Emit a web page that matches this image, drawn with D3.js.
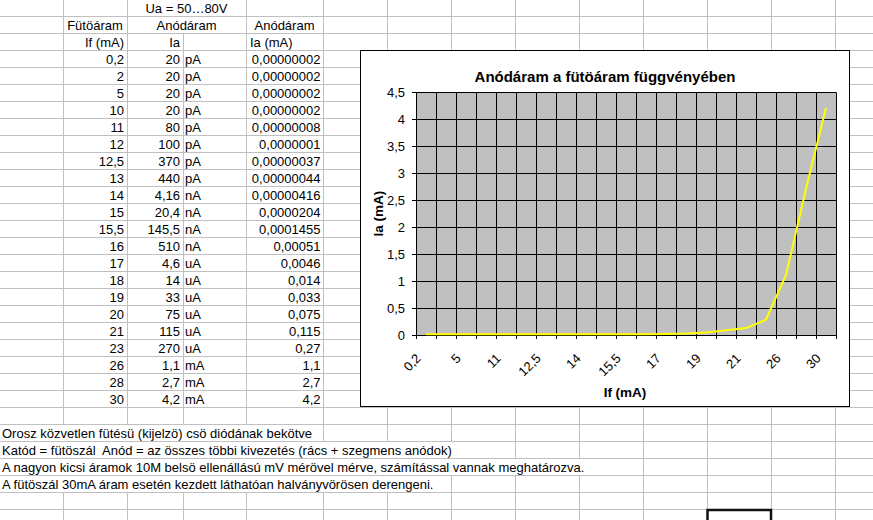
<!DOCTYPE html>
<html>
<head>
<meta charset="utf-8">
<script src="https://cdn.jsdelivr.net/npm/d3@7"></script>
<style>
  body { margin: 0; background: #fff; }
  svg { display: block; font-family: Arial, "Liberation Sans", sans-serif; }
  text { white-space: pre; }
</style>
</head>
<body>
<svg id="sheet" width="873" height="520"></svg>
<script>
// sheet data
const IF_LABELS = ["0,2", "2", "5", "10", "11", "12", "12,5", "13", "14", "15", "15,5",
                   "16", "17", "18", "19", "20", "21", "23", "26", "28", "30"];
const IA_VALUES = ["20", "20", "20", "20", "80", "100", "370", "440", "4,16", "20,4", "145,5",
                   "510", "4,6", "14", "33", "75", "115", "270", "1,1", "2,7", "4,2"];
const IA_UNITS = ["pA", "pA", "pA", "pA", "pA", "pA", "pA", "pA", "nA", "nA", "nA",
                  "nA", "uA", "uA", "uA", "uA", "uA", "uA", "mA", "mA", "mA"];
const IA_MA = ["0,00000002", "0,00000002", "0,00000002", "0,00000002", "0,00000008", "0,0000001",
               "0,00000037", "0,00000044", "0,00000416", "0,0000204", "0,0001455", "0,00051",
               "0,0046", "0,014", "0,033", "0,075", "0,115", "0,27", "1,1", "2,7", "4,2"];
const Y_TICKS = [0, 0.5, 1, 1.5, 2, 2.5, 3, 3.5, 4, 4.5];
const X_LABELS = ["0,2", "5", "11", "12,5", "14", "15,5", "17", "19", "21", "26", "30"];
const NOTES = [
  "Orosz közvetlen fütésü (kijelzö) csö diódának bekötve",
  "Katód = fütöszál  Anód = az összes többi kivezetés (rács + szegmens anódok)",
  "A nagyon kicsi áramok 10M belsö ellenállású mV mérövel mérve, számítással vannak meghatározva.",
  "A fütöszál 30mA áram esetén kezdett láthatóan halványvörösen derengeni."
];

const W = 873, H = 520;
const ROW_H = 17;
const COLS = [0, 63, 127, 183, 246, 323, 387, 451, 515, 579, 643, 707, 771, 835, 899];
const rowTop = r => 16 + (r - 1) * ROW_H;
const base = r => rowTop(r) + 13.5;
const NOTE_ROW = 25;

const svg = d3.select("#sheet");
const grid = svg.append("g");
const cells = svg.append("g").attr("font-size", "13px").attr("fill", "#000");

function cell(r, txt, x, anchor, weight) {
  return cells.append("text")
    .attr("x", x).attr("y", base(r))
    .attr("text-anchor", anchor || "start")
    .attr("font-weight", weight || "normal")
    .text(txt);
}

// header
cell(0, "Ua = 50…80V", (COLS[2] + COLS[4]) / 2, "middle");
cell(1, "Fütöáram", (COLS[1] + COLS[2]) / 2, "middle");
cell(1, "Anódáram", (COLS[2] + COLS[4]) / 2, "middle");
cell(1, "Anódáram", (COLS[4] + COLS[5]) / 2, "middle");
cell(2, "If (mA)", COLS[2] - 3, "end");
cell(2, "Ia", COLS[3] - 3, "end");
cell(2, "Ia (mA)", COLS[4] + 4);

IF_LABELS.forEach((lab, i) => {
  let r = 3 + i;
  cell(r, lab, COLS[2] - 3, "end");
  cell(r, IA_VALUES[i], COLS[3] - 3, "end");
  cell(r, IA_UNITS[i], COLS[3] + 2);
  cell(r, IA_MA[i], COLS[5] - 2.5, "end");
});

// notes overflow across cells -> remember where each one ends
let noteEnds = {};
NOTES.forEach((t, i) => {
  let node = cell(NOTE_ROW + i, t, 2).node();
  noteEnds[NOTE_ROW + i] = 2 + node.getComputedTextLength();
});

// spreadsheet gridlines
for (let r = 0; rowTop(r) < H; r++) {
  grid.append("line")
    .attr("x1", 0).attr("x2", W)
    .attr("y1", rowTop(r + 1) + 0.5).attr("y2", rowTop(r + 1) + 0.5)
    .attr("stroke", "#c0c0c0");
  COLS.slice(1).forEach(cx => {
    if ((r === 0 || r === 1) && cx === COLS[3]) return; // merged C:D
    if (noteEnds[r] && cx < noteEnds[r]) return;
    grid.append("line")
      .attr("x1", cx + 0.5).attr("x2", cx + 0.5)
      .attr("y1", rowTop(r)).attr("y2", rowTop(r + 1))
      .attr("stroke", "#c0c0c0");
  });
}

// selected cell
svg.append("rect")
  .attr("x", 707.5).attr("y", 510).attr("width", 63.5).attr("height", 20)
  .attr("fill", "none").attr("stroke", "#111").attr("stroke-width", 2.5);

// ---- embedded chart ----
const chart = svg.append("g");
chart.append("rect")
  .attr("x", 360.5).attr("y", 50.5).attr("width", 489).attr("height", 356)
  .attr("fill", "#fff").attr("stroke", "#000");

const PL = 416, PR = 836, PT = 92.3, PB = 335;
let x = d3.scaleBand().domain(IF_LABELS).range([PL, PR]).padding(0);
let y = d3.scaleLinear().domain([0, 4.5]).range([PB, PT]);
let points = IF_LABELS.map((lab, i) => ({ label: lab, v: +IA_MA[i].replace(",", ".") }));

chart.append("rect")
  .attr("x", PL).attr("y", PT).attr("width", PR - PL).attr("height", PB - PT)
  .attr("fill", "#c0c0c0");

let bounds = IF_LABELS.map(d => x(d)).concat([PR]);
chart.selectAll(".vgrid")
  .data(bounds)
  .enter()
  .append("line")
  .attr("x1", d => Math.round(d) + 0.5).attr("x2", d => Math.round(d) + 0.5)
  .attr("y1", PT).attr("y2", PB + 4)
  .attr("stroke", "#000");

chart.selectAll(".hgrid")
  .data(Y_TICKS)
  .enter()
  .append("line")
  .attr("x1", PL - 4).attr("x2", PR)
  .attr("y1", d => Math.round(y(d)) + 0.5).attr("y2", d => Math.round(y(d)) + 0.5)
  .attr("stroke", "#000");

chart.selectAll(".ylab")
  .data(Y_TICKS)
  .enter()
  .append("text")
  .attr("x", PL - 11).attr("y", d => y(d))
  .attr("dy", "0.36em")
  .attr("text-anchor", "end")
  .attr("font-size", "13px")
  .text(d => String(d).replace(".", ","));

chart.selectAll(".xlab")
  .data(X_LABELS)
  .enter()
  .append("text")
  .attr("transform", d => `translate(${x(d) + x.bandwidth() / 2 - 7.5},${PB + 21}) rotate(-45)`)
  .attr("text-anchor", "end")
  .attr("dominant-baseline", "central")
  .attr("font-size", "13px")
  .text(d => d);

chart.append("path")
  .datum(points)
  .attr("fill", "none")
  .attr("stroke", "#ffff00")
  .attr("stroke-width", 2)
  .attr("d", d3.line().x(d => x(d.label) + x.bandwidth() / 2).y(d => y(d.v) - 0.7));

chart.append("text")
  .attr("x", 605).attr("y", 81.5)
  .attr("text-anchor", "middle")
  .attr("font-size", "15px").attr("font-weight", "bold")
  .text("Anódáram a fütöáram függvényében");

chart.append("text")
  .attr("x", 625).attr("y", 397)
  .attr("text-anchor", "middle")
  .attr("font-size", "13.5px").attr("font-weight", "bold")
  .text("If (mA)");

chart.append("text")
  .attr("transform", `translate(383,${(PT + PB) / 2}) rotate(-90)`)
  .attr("text-anchor", "middle")
  .attr("font-size", "13.5px").attr("font-weight", "bold")
  .text("Ia (mA)");
</script>
</body>
</html>
